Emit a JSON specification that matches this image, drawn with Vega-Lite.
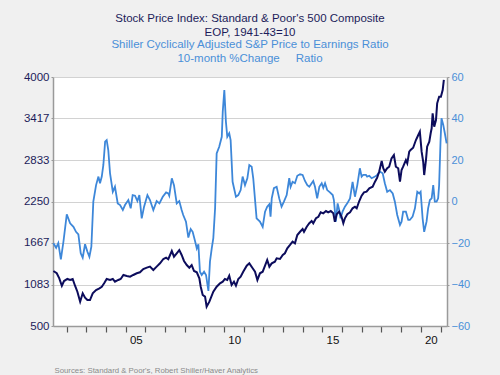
{
  "$schema": "https://vega.github.io/schema/vega-lite/v6.json",
  "width": 394,
  "height": 249,
  "autosize": {"type": "none"},
  "padding": {"left": 53, "top": 77, "right": 53, "bottom": 49},
  "background": "#F0F0F0",
  "config": {"view": {"fill": "white", "stroke": null}, "font": "Liberation Sans", "axisX": {"ticks": true, "tickColor": "#555555", "tickSize": 6, "tickWidth": 1.2}},
  "title": {
    "text": ["Stock Price Index: Standard & Poor's 500 Composite", "EOP, 1941-43=10"],
    "subtitle": ["Shiller Cyclically Adjusted S&P Price to Earnings Ratio", "10-month %Change\u00a0\u00a0\u00a0\u00a0\u00a0Ratio"],
    "color": "#1c1c5a",
    "subtitleColor": "#4a8fd8",
    "fontSize": 11.5,
    "subtitleFontSize": 11.5,
    "fontWeight": "normal",
    "lineHeight": 14,
    "subtitleLineHeight": 14,
    "subtitlePadding": 0,
    "offset": 7,
    "anchor": "middle",
    "frame": "group"
  },
  "datasets": {
    "sp": [
      {"year": 2001.32, "sp": 1273}, {"year": 2001.49, "sp": 1241}, {"year": 2001.62, "sp": 1170}, {"year": 2001.75, "sp": 1066},
      {"year": 2001.86, "sp": 1132}, {"year": 2002.03, "sp": 1161}, {"year": 2002.17, "sp": 1147}, {"year": 2002.30, "sp": 1161},
      {"year": 2002.42, "sp": 1066}, {"year": 2002.54, "sp": 982}, {"year": 2002.68, "sp": 842}, {"year": 2002.81, "sp": 960},
      {"year": 2002.93, "sp": 898}, {"year": 2003.05, "sp": 865}, {"year": 2003.18, "sp": 865}, {"year": 2003.32, "sp": 960},
      {"year": 2003.49, "sp": 1006}, {"year": 2003.66, "sp": 1030}, {"year": 2003.78, "sp": 1052}, {"year": 2003.90, "sp": 1100},
      {"year": 2004.03, "sp": 1161}, {"year": 2004.20, "sp": 1147}, {"year": 2004.34, "sp": 1161}, {"year": 2004.45, "sp": 1123},
      {"year": 2004.62, "sp": 1147}, {"year": 2004.74, "sp": 1161}, {"year": 2004.88, "sp": 1217}, {"year": 2005.05, "sp": 1203},
      {"year": 2005.22, "sp": 1193}, {"year": 2005.38, "sp": 1217}, {"year": 2005.56, "sp": 1241}, {"year": 2005.72, "sp": 1255},
      {"year": 2005.89, "sp": 1301}, {"year": 2006.07, "sp": 1320}, {"year": 2006.23, "sp": 1334}, {"year": 2006.40, "sp": 1287},
      {"year": 2006.57, "sp": 1334}, {"year": 2006.74, "sp": 1381}, {"year": 2006.91, "sp": 1442}, {"year": 2007.05, "sp": 1460},
      {"year": 2007.16, "sp": 1438}, {"year": 2007.34, "sp": 1554}, {"year": 2007.45, "sp": 1474}, {"year": 2007.59, "sp": 1522},
      {"year": 2007.72, "sp": 1568}, {"year": 2007.84, "sp": 1498}, {"year": 2007.96, "sp": 1414}, {"year": 2008.10, "sp": 1357},
      {"year": 2008.23, "sp": 1320}, {"year": 2008.35, "sp": 1357}, {"year": 2008.47, "sp": 1273}, {"year": 2008.61, "sp": 1255},
      {"year": 2008.74, "sp": 1170}, {"year": 2008.81, "sp": 1052}, {"year": 2008.91, "sp": 936}, {"year": 2009.03, "sp": 912},
      {"year": 2009.11, "sp": 771}, {"year": 2009.25, "sp": 842}, {"year": 2009.45, "sp": 982}, {"year": 2009.62, "sp": 1052},
      {"year": 2009.79, "sp": 1100}, {"year": 2009.93, "sp": 1123}, {"year": 2010.04, "sp": 1161}, {"year": 2010.16, "sp": 1147},
      {"year": 2010.26, "sp": 1207}, {"year": 2010.38, "sp": 1076}, {"year": 2010.50, "sp": 1123}, {"year": 2010.60, "sp": 1066},
      {"year": 2010.72, "sp": 1161}, {"year": 2010.84, "sp": 1193}, {"year": 2010.97, "sp": 1263}, {"year": 2011.15, "sp": 1348},
      {"year": 2011.28, "sp": 1381}, {"year": 2011.45, "sp": 1311}, {"year": 2011.57, "sp": 1263}, {"year": 2011.69, "sp": 1147},
      {"year": 2011.82, "sp": 1241}, {"year": 2011.96, "sp": 1263}, {"year": 2012.08, "sp": 1348}, {"year": 2012.19, "sp": 1428},
      {"year": 2012.30, "sp": 1334}, {"year": 2012.42, "sp": 1381}, {"year": 2012.58, "sp": 1404}, {"year": 2012.67, "sp": 1451},
      {"year": 2012.84, "sp": 1442}, {"year": 2012.98, "sp": 1498}, {"year": 2013.09, "sp": 1522}, {"year": 2013.21, "sp": 1592},
      {"year": 2013.35, "sp": 1639}, {"year": 2013.48, "sp": 1685}, {"year": 2013.60, "sp": 1662}, {"year": 2013.72, "sp": 1779},
      {"year": 2013.86, "sp": 1825}, {"year": 2013.99, "sp": 1863}, {"year": 2014.06, "sp": 1825}, {"year": 2014.20, "sp": 1896},
      {"year": 2014.33, "sp": 1944}, {"year": 2014.45, "sp": 1976}, {"year": 2014.53, "sp": 1944}, {"year": 2014.67, "sp": 2014},
      {"year": 2014.79, "sp": 2036}, {"year": 2014.91, "sp": 2098}, {"year": 2015.04, "sp": 2084}, {"year": 2015.18, "sp": 2116},
      {"year": 2015.29, "sp": 2098}, {"year": 2015.42, "sp": 2116}, {"year": 2015.55, "sp": 2084}, {"year": 2015.63, "sp": 1966},
      {"year": 2015.72, "sp": 2070}, {"year": 2015.85, "sp": 2107}, {"year": 2015.97, "sp": 2036}, {"year": 2016.06, "sp": 1944},
      {"year": 2016.14, "sp": 2014}, {"year": 2016.26, "sp": 2070}, {"year": 2016.40, "sp": 2098}, {"year": 2016.53, "sp": 2154},
      {"year": 2016.65, "sp": 2177}, {"year": 2016.74, "sp": 2154}, {"year": 2016.87, "sp": 2257}, {"year": 2016.99, "sp": 2332},
      {"year": 2017.11, "sp": 2379}, {"year": 2017.24, "sp": 2388}, {"year": 2017.38, "sp": 2436}, {"year": 2017.55, "sp": 2458},
      {"year": 2017.67, "sp": 2529}, {"year": 2017.78, "sp": 2585}, {"year": 2017.88, "sp": 2669}, {"year": 2018.01, "sp": 2819},
      {"year": 2018.09, "sp": 2717}, {"year": 2018.17, "sp": 2669}, {"year": 2018.29, "sp": 2717}, {"year": 2018.39, "sp": 2739},
      {"year": 2018.51, "sp": 2857}, {"year": 2018.63, "sp": 2904}, {"year": 2018.73, "sp": 2739}, {"year": 2018.85, "sp": 2717},
      {"year": 2018.94, "sp": 2529}, {"year": 2019.02, "sp": 2693}, {"year": 2019.10, "sp": 2739}, {"year": 2019.24, "sp": 2833},
      {"year": 2019.31, "sp": 2787}, {"year": 2019.41, "sp": 2950}, {"year": 2019.48, "sp": 2974}, {"year": 2019.61, "sp": 3006},
      {"year": 2019.75, "sp": 3114}, {"year": 2019.87, "sp": 3185}, {"year": 2019.95, "sp": 3231}, {"year": 2020.04, "sp": 2950},
      {"year": 2020.12, "sp": 2809}, {"year": 2020.17, "sp": 2622}, {"year": 2020.26, "sp": 2833}, {"year": 2020.32, "sp": 3020},
      {"year": 2020.43, "sp": 3091}, {"year": 2020.50, "sp": 3209}, {"year": 2020.55, "sp": 3279}, {"year": 2020.60, "sp": 3490},
      {"year": 2020.68, "sp": 3302}, {"year": 2020.77, "sp": 3396}, {"year": 2020.83, "sp": 3630}, {"year": 2020.93, "sp": 3723},
      {"year": 2021.02, "sp": 3723}, {"year": 2021.11, "sp": 3817}, {"year": 2021.17, "sp": 3958}
    ],
    "cape": [
      {"year": 2001.32, "cape": -20.1}, {"year": 2001.46, "cape": -22.3}, {"year": 2001.57, "cape": -20}, {"year": 2001.70, "cape": -27.9},
      {"year": 2001.83, "cape": -19.4}, {"year": 2002.00, "cape": -6.2}, {"year": 2002.17, "cape": -10.5}, {"year": 2002.34, "cape": -12.2},
      {"year": 2002.47, "cape": -14.6}, {"year": 2002.59, "cape": -15.8}, {"year": 2002.71, "cape": -25}, {"year": 2002.81, "cape": -27.1},
      {"year": 2002.93, "cape": -20.6}, {"year": 2003.05, "cape": -24.2}, {"year": 2003.15, "cape": -26.6}, {"year": 2003.25, "cape": -21.8},
      {"year": 2003.35, "cape": -0.1}, {"year": 2003.49, "cape": 7.9}, {"year": 2003.61, "cape": 12}, {"year": 2003.69, "cape": 8.8},
      {"year": 2003.78, "cape": 12}, {"year": 2003.86, "cape": 17.6}, {"year": 2003.95, "cape": 28.8}, {"year": 2004.03, "cape": 29.6},
      {"year": 2004.11, "cape": 24.8}, {"year": 2004.20, "cape": 13.6}, {"year": 2004.34, "cape": 4.7}, {"year": 2004.45, "cape": 7.1},
      {"year": 2004.59, "cape": -0.9}, {"year": 2004.71, "cape": -1.7}, {"year": 2004.85, "cape": -4.1}, {"year": 2004.96, "cape": -1.7},
      {"year": 2005.13, "cape": 0.7}, {"year": 2005.25, "cape": -3.3}, {"year": 2005.35, "cape": 3.1}, {"year": 2005.47, "cape": 2.8},
      {"year": 2005.59, "cape": 0.2}, {"year": 2005.69, "cape": 3.1}, {"year": 2005.81, "cape": -8.1}, {"year": 2005.93, "cape": -2.5},
      {"year": 2006.10, "cape": 3.1}, {"year": 2006.23, "cape": 0.7}, {"year": 2006.40, "cape": -4.1}, {"year": 2006.57, "cape": 0.2},
      {"year": 2006.71, "cape": -0.9}, {"year": 2006.88, "cape": 2.3}, {"year": 2007.05, "cape": 4.4}, {"year": 2007.16, "cape": 3.9},
      {"year": 2007.21, "cape": 2.8}, {"year": 2007.34, "cape": 11.2}, {"year": 2007.45, "cape": 7.9}, {"year": 2007.59, "cape": -0.9},
      {"year": 2007.72, "cape": 0.2}, {"year": 2007.84, "cape": -4.1}, {"year": 2007.92, "cape": -6.5}, {"year": 2008.06, "cape": -9.7},
      {"year": 2008.18, "cape": -17.4}, {"year": 2008.30, "cape": -13.3}, {"year": 2008.40, "cape": -14.6}, {"year": 2008.52, "cape": -19},
      {"year": 2008.61, "cape": -22.6}, {"year": 2008.69, "cape": -20.6}, {"year": 2008.77, "cape": -33.8}, {"year": 2008.86, "cape": -35.4},
      {"year": 2008.98, "cape": -33.8}, {"year": 2009.08, "cape": -35.4}, {"year": 2009.20, "cape": -43.1}, {"year": 2009.28, "cape": -29},
      {"year": 2009.37, "cape": -22.6}, {"year": 2009.45, "cape": -17.7}, {"year": 2009.54, "cape": -3.3}, {"year": 2009.62, "cape": 23.2},
      {"year": 2009.75, "cape": 26.4}, {"year": 2009.88, "cape": 31.2}, {"year": 2009.93, "cape": 43.3}, {"year": 2010.01, "cape": 53.7},
      {"year": 2010.09, "cape": 38.5}, {"year": 2010.16, "cape": 31.2}, {"year": 2010.26, "cape": 32.9}, {"year": 2010.33, "cape": 29.6},
      {"year": 2010.43, "cape": 9.5}, {"year": 2010.60, "cape": 2.3}, {"year": 2010.72, "cape": 3.1}, {"year": 2010.84, "cape": 5.5},
      {"year": 2010.94, "cape": 12}, {"year": 2011.06, "cape": 7.9}, {"year": 2011.18, "cape": 11.2}, {"year": 2011.28, "cape": 17.6},
      {"year": 2011.40, "cape": 16.8}, {"year": 2011.48, "cape": 11.2}, {"year": 2011.65, "cape": -8.1}, {"year": 2011.82, "cape": -9.7},
      {"year": 2011.96, "cape": -12.2}, {"year": 2012.08, "cape": -4.9}, {"year": 2012.19, "cape": -2.5}, {"year": 2012.30, "cape": -1.3},
      {"year": 2012.36, "cape": -7.3}, {"year": 2012.42, "cape": 1.5}, {"year": 2012.53, "cape": 6.4}, {"year": 2012.67, "cape": 7.1},
      {"year": 2012.80, "cape": 1.5}, {"year": 2012.92, "cape": -2.5}, {"year": 2013.04, "cape": -0.1}, {"year": 2013.18, "cape": 3.1},
      {"year": 2013.31, "cape": 11.2}, {"year": 2013.38, "cape": 7.1}, {"year": 2013.48, "cape": 9.5}, {"year": 2013.60, "cape": 8.8},
      {"year": 2013.72, "cape": 12.4}, {"year": 2013.86, "cape": 13.1}, {"year": 2013.99, "cape": 12.8}, {"year": 2014.11, "cape": 9.9},
      {"year": 2014.23, "cape": 7.9}, {"year": 2014.33, "cape": 7.1}, {"year": 2014.45, "cape": 8.8}, {"year": 2014.53, "cape": 9.9},
      {"year": 2014.62, "cape": 7.1}, {"year": 2014.73, "cape": 1.5}, {"year": 2014.84, "cape": 7.1}, {"year": 2014.96, "cape": 8.8},
      {"year": 2015.04, "cape": 6.6}, {"year": 2015.13, "cape": 8.8}, {"year": 2015.24, "cape": 5.5}, {"year": 2015.38, "cape": 4.4},
      {"year": 2015.52, "cape": 3.1}, {"year": 2015.58, "cape": 0.7}, {"year": 2015.68, "cape": -9.7}, {"year": 2015.77, "cape": -0.9},
      {"year": 2015.85, "cape": -4.1}, {"year": 2015.92, "cape": -8.1}, {"year": 2016.02, "cape": -4.9}, {"year": 2016.14, "cape": -2.5},
      {"year": 2016.26, "cape": -0.9}, {"year": 2016.40, "cape": 1.5}, {"year": 2016.53, "cape": 9.5}, {"year": 2016.65, "cape": 2.3},
      {"year": 2016.77, "cape": 7.9}, {"year": 2016.90, "cape": 16}, {"year": 2016.99, "cape": 12}, {"year": 2017.07, "cape": 12.8},
      {"year": 2017.21, "cape": 12.8}, {"year": 2017.27, "cape": 12}, {"year": 2017.38, "cape": 12.4}, {"year": 2017.50, "cape": 11.2},
      {"year": 2017.67, "cape": 12}, {"year": 2017.78, "cape": 12.8}, {"year": 2017.92, "cape": 14.4}, {"year": 2018.06, "cape": 13.6},
      {"year": 2018.17, "cape": 8.8}, {"year": 2018.29, "cape": 4.7}, {"year": 2018.43, "cape": 5.5}, {"year": 2018.57, "cape": 3.9},
      {"year": 2018.68, "cape": -0.1}, {"year": 2018.80, "cape": -6.5}, {"year": 2018.94, "cape": -11.3}, {"year": 2019.02, "cape": -9.7},
      {"year": 2019.10, "cape": -4.9}, {"year": 2019.24, "cape": -4.9}, {"year": 2019.36, "cape": -8.9}, {"year": 2019.44, "cape": -8.9},
      {"year": 2019.58, "cape": -7.3}, {"year": 2019.70, "cape": -3.3}, {"year": 2019.82, "cape": 4.7}, {"year": 2019.92, "cape": 3.9},
      {"year": 2019.99, "cape": 4.7}, {"year": 2020.09, "cape": -8.1}, {"year": 2020.17, "cape": -14.6}, {"year": 2020.29, "cape": -9.7},
      {"year": 2020.37, "cape": -3.3}, {"year": 2020.46, "cape": 0.7}, {"year": 2020.55, "cape": 1.5}, {"year": 2020.63, "cape": 7.9},
      {"year": 2020.71, "cape": -0.1}, {"year": 2020.80, "cape": -0.1}, {"year": 2020.88, "cape": 1.5}, {"year": 2020.93, "cape": 7.9},
      {"year": 2021.00, "cape": 28.8}, {"year": 2021.05, "cape": 40.1}, {"year": 2021.14, "cape": 36.9}, {"year": 2021.22, "cape": 32.9},
      {"year": 2021.31, "cape": 28}
    ]
  },
  "encoding": {
    "x": {
      "field": "year", "type": "quantitative",
      "scale": {"domain": [2001.3, 2021.33], "nice": false, "zero": false},
      "axis": {
        "values": [2002, 2003, 2004, 2005, 2006, 2007, 2008, 2009, 2010, 2011, 2012, 2013, 2014, 2015, 2016, 2017, 2018, 2019, 2020, 2021],
        "labelExpr": "datum.value == 2005 ? '05' : datum.value == 2010 ? '10' : datum.value == 2015 ? '15' : datum.value == 2020 ? '20' : ''",
        "labelOffset": 10,
        "labelOverlap": false,
        "labelBound": false,
        "labelFlush": false,
        "grid": false,
        "ticks": true,
        "domainColor": "#9a9a9a",
        "domainWidth": 1.5,
        "tickColor": "#555555",
        "tickWidth": 1.2,
        "tickSize": 6,
        "labelColor": "#111111",
        "labelFontSize": 11.5,
        "labelPadding": 2,
        "title": "Sources:  Standard & Poor's, Robert Shiller/Haver Analytics",
        "titleFontSize": 7.8,
        "titleFontWeight": "normal",
        "titleColor": "#8a8a8a",
        "titleAnchor": "start",
        "titleAlign": "left",
        "titleBaseline": "top",
        "titleX": 1,
        "titleY": 40
      }
    }
  },
  "layer": [
    {
      "data": {"name": "cape"},
      "mark": {"type": "line", "color": "#3d87d9", "strokeWidth": 1.8},
      "encoding": {
        "y": {
          "field": "cape", "type": "quantitative",
          "scale": {"domain": [-60, 60], "nice": false, "zero": false},
          "axis": {
            "orient": "right",
            "values": [-60, -40, -20, 0, 20, 40, 60],
            "grid": false,
            "title": null,
            "labelColor": "#4a8fd8",
            "labelFontSize": 11,
            "tickColor": "#9a9a9a",
            "tickSize": 2,
            "labelPadding": 2,
            "domainColor": "#9a9a9a",
            "domainWidth": 1.5
          }
        }
      }
    },
    {
      "data": {"name": "sp"},
      "mark": {"type": "line", "color": "#0c0c5c", "strokeWidth": 2},
      "encoding": {
        "y": {
          "field": "sp", "type": "quantitative",
          "scale": {"domain": [500, 4000], "nice": false, "zero": false},
          "axis": {
            "orient": "left",
            "values": [500, 1083.33, 1666.67, 2250, 2833.33, 3416.67, 4000],
            "format": ".0f",
            "grid": true,
            "gridColor": "#d2d2d2",
            "gridWidth": 1,
            "title": null,
            "labelColor": "#1c1c5a",
            "labelFontSize": 11.5,
            "tickColor": "#9a9a9a",
            "tickSize": 2,
            "labelPadding": 2,
            "domainColor": "#9a9a9a",
            "domainWidth": 1.5
          }
        }
      }
    }
  ],
  "resolve": {"scale": {"y": "independent"}}
}
